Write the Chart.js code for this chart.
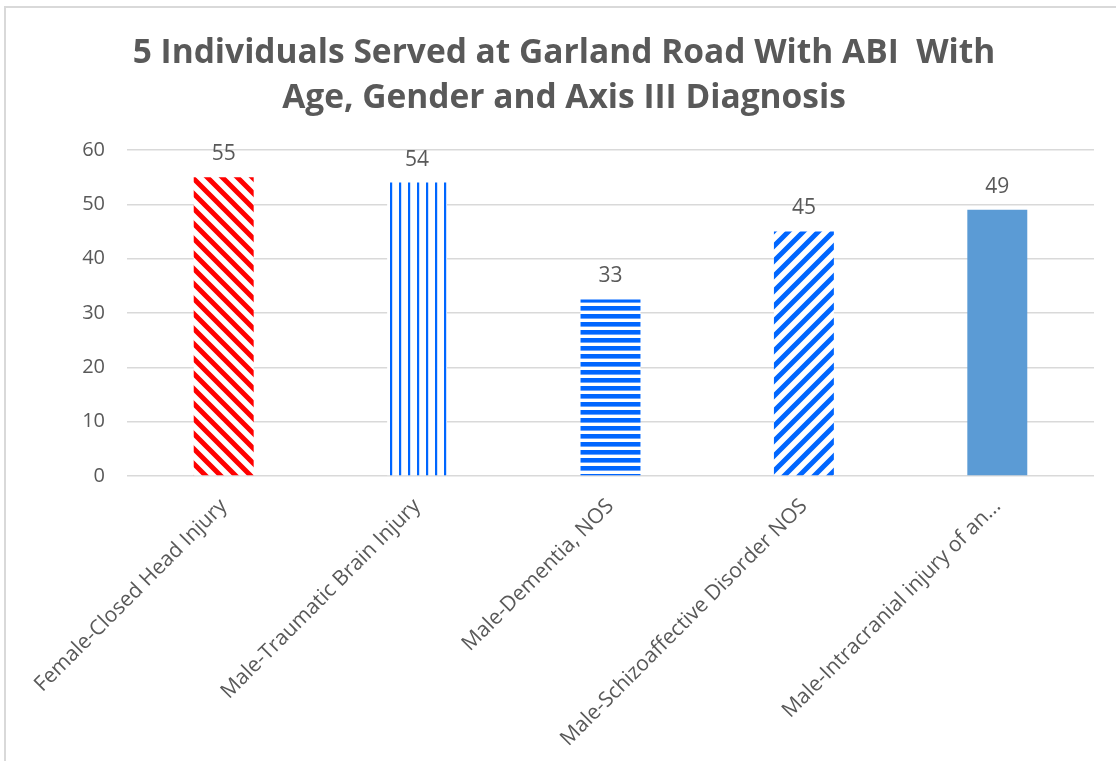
<!DOCTYPE html>
<html>
<head>
<meta charset="utf-8">
<script src="https://cdn.jsdelivr.net/npm/chart.js@4/dist/chart.umd.min.js"></script>
<style>
  html, body { margin: 0; padding: 0; background: #fff; }
  #wrap { position: relative; width: 1116px; height: 761px; overflow: hidden; }
  #frame { position: absolute; left: 4px; top: 6px; width: 1200px; height: 800px;
           border-left: 2px solid #d9d9d9; border-top: 2px solid #d9d9d9; }
  canvas { position: absolute; left: 0; top: 0; }
</style>
</head>
<body>
<div id="wrap">
  <div id="frame"></div>
  <canvas id="c" width="1116" height="761"></canvas>
</div>
<script>
const titleLines = ['5 Individuals Served at Garland Road With ABI  With', 'Age, Gender and Axis III Diagnosis'];
const categories = ['Female-Closed Head Injury', 'Male-Traumatic Brain Injury', 'Male-Dementia, NOS',
                    'Male-Schizoaffective Disorder NOS', 'Male-Intracranial injury of an...'];
const ages = [55, 54, 32.5, 45, 49];
const fillKinds = ['diagBack', 'vertical', 'horizontal', 'diagFwd', 'solid'];
const fillColors = ['#ff0000', '#0066ff', '#0066ff', '#0066ff', '#5b9bd5'];
const yTicks = [0, 10, 20, 30, 40, 50, 60];

function makeFill(kind, color) {
  if (kind === 'solid') return color;
  const t = document.createElement('canvas');
  const g = t.getContext('2d');
  let s = 16;
  if (kind === 'vertical') { t.width = 9; t.height = 9; g.fillStyle = '#fff'; g.fillRect(0,0,9,9); g.fillStyle = color; g.fillRect(3, 0, 2.2, 9); }
  else if (kind === 'horizontal') { t.width = 8; t.height = 8; g.fillStyle = '#fff'; g.fillRect(0,0,8,8); g.fillStyle = color; g.fillRect(0, 2, 8, 4.6); }
  else {
    s = 15; t.width = s; t.height = s;
    g.fillStyle = '#fff'; g.fillRect(0,0,s,s);
    g.strokeStyle = color; g.lineWidth = 5; g.lineCap = 'square';
    g.beginPath();
    if (kind === 'diagBack') {
      g.moveTo(-s, 0); g.lineTo(s, 2*s);
      g.moveTo(0, -s); g.lineTo(2*s, s);
      g.moveTo(0, 0); g.lineTo(s, s);
    } else {
      g.moveTo(0, s); g.lineTo(s, 0);
      g.moveTo(-s, s); g.lineTo(s, -s);
      g.moveTo(0, 2*s); g.lineTo(2*s, 0);
    }
    g.stroke();
  }
  return g.createPattern(t, 'repeat');
}

const valueLabels = {
  id: 'valueLabels',
  afterDatasetsDraw(chart) {
    const ctx = chart.ctx;
    const meta = chart.getDatasetMeta(0);
    ctx.save();
    ctx.font = '21px "Open Sans", sans-serif';
    ctx.fillStyle = '#595959';
    ctx.textAlign = 'center';
    ctx.textBaseline = 'middle';
    meta.data.forEach((el, i) => {
      ctx.fillText(String(Math.round(ages[i])), el.x, el.y - 23);
    });
    ctx.restore();
  }
};

new Chart(document.getElementById('c'), {
  type: 'bar',
  data: {
    labels: categories,
    datasets: [{
      data: ages,
      backgroundColor: fillKinds.map((k, i) => makeFill(k, fillColors[i])),
      borderWidth: 0,
      categoryPercentage: 1,
      barPercentage: 0.31
    }]
  },
  options: {
    responsive: false,
    animation: false,
    events: [],
    layout: { padding: { left: 34, right: 22, top: 8, bottom: 0 } },
    plugins: {
      legend: { display: false },
      tooltip: { enabled: false },
      title: {
        display: true,
        text: titleLines,
        color: '#595959',
        font: { family: '"Open Sans", sans-serif', size: 33.5, weight: 'bold', lineHeight: 1.343 },
        padding: { top: 23, bottom: 29 }
      }
    },
    scales: {
      x: {
        grid: { display: false },
        border: { display: false },
        ticks: { color: '#595959', font: { family: '"Open Sans", sans-serif', size: 21 }, minRotation: 45, maxRotation: 45, padding: 10 },
        afterFit(scale) { scale.height = 285; }
      },
      y: {
        min: 0, max: 60,
        afterBuildTicks(scale) { scale.ticks = yTicks.map(v => ({ value: v })); },
        grid: { color: '#d9d9d9', lineWidth: 1.5, drawTicks: false },
        border: { display: false },
        ticks: { color: '#595959', font: { family: '"Open Sans", sans-serif', size: 20 }, padding: 22 },
        afterFit(scale) { scale.width = 93; }
      }
    }
  },
  plugins: [valueLabels]
});
</script>
</body>
</html>
